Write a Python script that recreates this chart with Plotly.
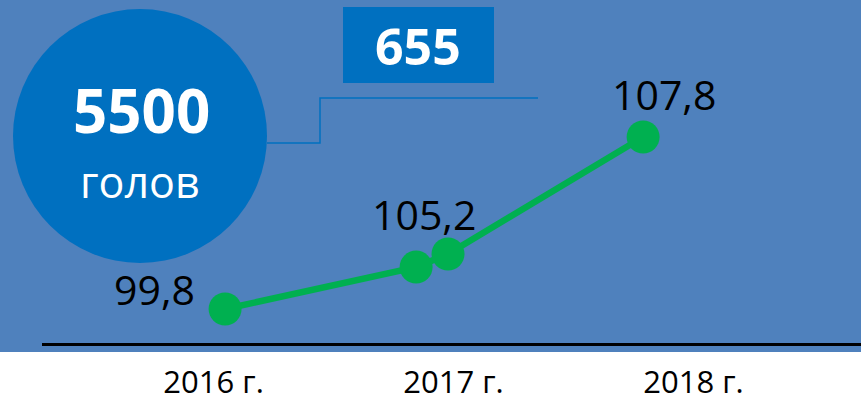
import plotly.graph_objects as go

# ---- data ----
point_x = [2016.048, 2016.844, 2016.977, 2017.79]
point_y = [99.8, 101.75, 102.36, 107.8]
point_labels = ["99,8", "", "105,2", "107,8"]
label_shift_x = [-71, 0, -24, 21]
label_shift_y = [20, 0, 40, 43]
year_ticks = [2016, 2017, 2018]
year_labels = ["2016 г.", "2017 г.", "2018 г."]
big_number = "5500"
big_unit = "голов"
box_number = "655"

W, H = 861, 401
ML, MR, MT, MB = 42, 0, 0, 58
PW, PH = W - ML - MR, H - MT - MB


def px(x):
    return (x - ML) / PW


def py(y):
    return (H - MB - y) / PH


BG = "#4F81BD"
DARK = "#0070C0"
GREEN = "#00B050"

fig = go.Figure()
fig.add_trace(go.Scatter(
    x=point_x, y=point_y, mode="lines+markers",
    line=dict(color=GREEN, width=6.5),
    marker=dict(color=GREEN, size=33),
    hoverinfo="skip", showlegend=False,
))

shapes = [
    dict(type="rect", xref="paper", yref="paper", x0=px(0), x1=px(W), y0=py(352), y1=py(0),
         fillcolor=BG, line=dict(width=0), layer="below"),
    dict(type="circle", xref="paper", yref="paper", x0=px(13), x1=px(267), y0=py(263), y1=py(9),
         fillcolor=DARK, line=dict(width=0), layer="below"),
    dict(type="rect", xref="paper", yref="paper", x0=px(343), x1=px(494), y0=py(83), y1=py(7),
         fillcolor=DARK, line=dict(width=0), layer="below"),
    dict(type="path", xref="paper", yref="paper",
         path=f"M {px(267)},{py(143)} L {px(320)},{py(143)} L {px(320)},{py(98)} L {px(538)},{py(98)}",
         line=dict(color=DARK, width=1.5), layer="below"),
]

annotations = []
for x, y, t, dx, dy in zip(point_x, point_y, point_labels, label_shift_x, label_shift_y):
    if t:
        annotations.append(dict(x=x, y=y, xref="x", yref="y", text=t, showarrow=False,
                                xshift=dx, yshift=dy,
                                font=dict(family="Open Sans", size=41, color="black")))

annotations += [
    dict(xref="paper", yref="paper", x=px(141), y=py(110), text=f"<b>{big_number}</b>", showarrow=False,
         xanchor="center", yanchor="middle", font=dict(family="Open Sans", size=60, color="white")),
    dict(xref="paper", yref="paper", x=px(140), y=py(181), text=big_unit, showarrow=False,
         xanchor="center", yanchor="middle", font=dict(family="Open Sans", size=43, color="white")),
    dict(xref="paper", yref="paper", x=px(418), y=py(46), text=f"<b>{box_number}</b>", showarrow=False,
         xanchor="center", yanchor="middle", font=dict(family="Open Sans", size=50, color="white")),
]

fig.update_layout(
    width=W, height=H,
    margin=dict(l=ML, r=MR, t=MT, b=MB, autoexpand=False),
    paper_bgcolor="white", plot_bgcolor="rgba(0,0,0,0)",
    shapes=shapes, annotations=annotations,
    xaxis=dict(range=[2015.285, 2018.698], tickvals=year_ticks, ticktext=year_labels,
               showgrid=False, zeroline=False, showline=True, linecolor="black", linewidth=2.5,
               ticks="", ticklabelstandoff=10, automargin=False,
               tickfont=dict(family="Open Sans", size=31, color="black")),
    yaxis=dict(range=[98.219, 114.172], visible=False, showgrid=False, zeroline=False,
               automargin=False),
)

fig.write_html("out.html", config={"displayModeBar": False},
               post_script="document.body.style.margin='0';document.body.style.overflow='hidden';")
